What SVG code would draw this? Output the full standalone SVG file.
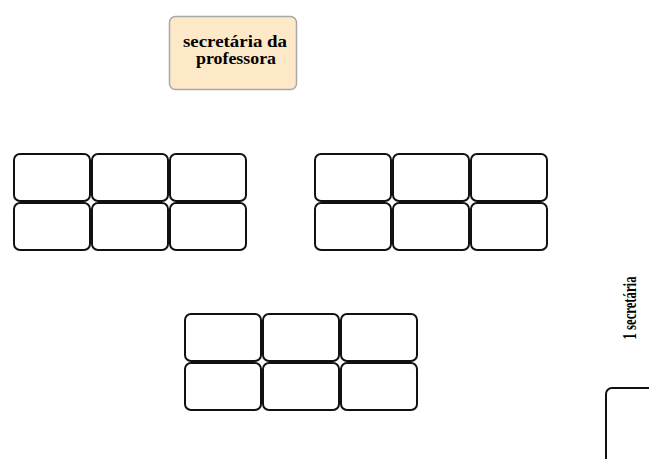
<svg xmlns="http://www.w3.org/2000/svg" width="649" height="459" viewBox="0 0 649 459">
<style>
.cell{fill:#fff;stroke:#111;stroke-width:2}
.lbl{font-family:"Liberation Serif","Times New Roman",serif;font-weight:bold;fill:#000}
</style>
<defs>
<g id="desk">
<rect class="cell" x="1" y="1" width="76" height="47" rx="6"/>
</g>
<g id="grid">
<use href="#desk" x="0" y="0"/><use href="#desk" x="78" y="0"/><use href="#desk" x="156" y="0"/>
<use href="#desk" x="0" y="49"/><use href="#desk" x="78" y="49"/><use href="#desk" x="156" y="49"/>
</g>
</defs>
<rect width="649" height="459" fill="#fff"/>
<g id="secretaria-professora">
<rect x="169.5" y="16.5" width="127" height="73" rx="6" fill="#fde8c8" stroke="#a8a8a8" stroke-width="1.5"/>
<text class="lbl" x="235" y="47" font-size="16" text-anchor="middle" textLength="104" lengthAdjust="spacingAndGlyphs">secretária da</text>
<text class="lbl" x="236" y="64" font-size="16" text-anchor="middle" textLength="80" lengthAdjust="spacingAndGlyphs">professora</text>
</g>
<g id="grupo-1"><use href="#grid" x="13" y="153"/></g>
<g id="grupo-2"><use href="#grid" x="314" y="153"/></g>
<g id="grupo-3"><use href="#grid" x="184" y="313"/></g>
<g id="secretaria-1">
<text class="lbl" transform="translate(636,308) rotate(-90)" font-size="18" text-anchor="middle" textLength="63" lengthAdjust="spacingAndGlyphs">1 secretária</text>
<rect class="cell" x="606" y="388" width="70" height="90" rx="6"/>
</g>
<g id="connectors"/>
</svg>
